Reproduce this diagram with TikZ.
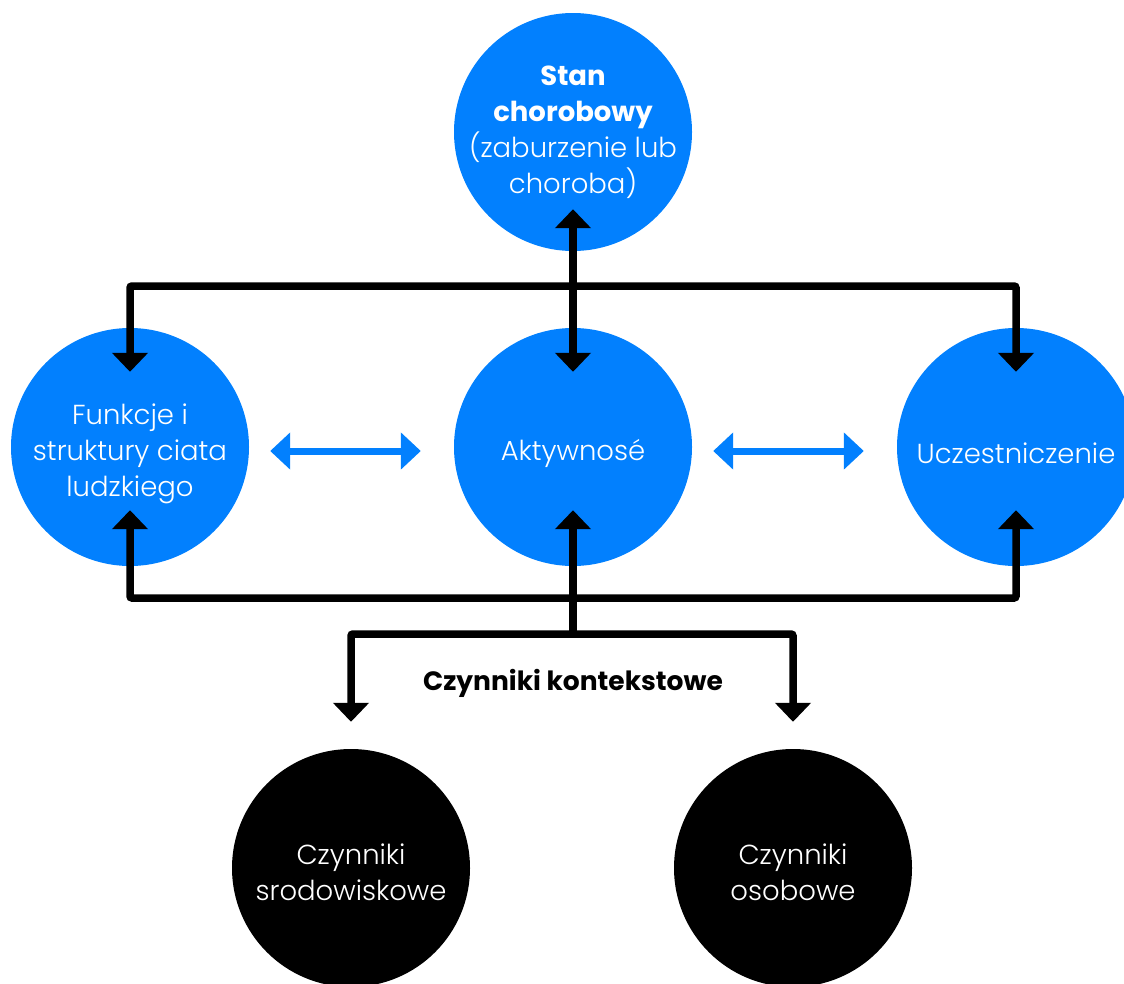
\documentclass[tikz,border=0pt]{standalone}
\usepackage{fontspec}
\setmainfont{Poppins}[UprightFont=* Light, BoldFont=* Bold]
\usetikzlibrary{arrows.meta,calc}
\definecolor{icfblue}{HTML}{0280FE}
\newcommand\txtlift[1]{\rule{0pt}{#1}}
\tikzset{
  ball/.style={circle,minimum size=238pt,inner sep=-20pt,align=center,text=white,
    font=\fontsize{27.5}{36}\selectfont},
  blueball/.style={ball,fill=icfblue},
  blackball/.style={ball,fill=black},
  link/.style={line width=7.5pt,rounded corners=2pt,arrows={-Triangle[width=35pt,length=19pt]}},
  twoway/.style={line width=7pt,icfblue,arrows={Triangle[width=36pt,length=20pt]-Triangle[width=36pt,length=20pt]}}
}
\begin{document}
\begin{tikzpicture}[x=1pt,y=-1pt]
    \useasboundingbox (0,0) rectangle (1124,983);
    \clip (0,0) rectangle (1124,983);
    \node[blueball] (stan) at (573,132) {\textbf{Stan}\\\textbf{chorobowy}\\(zaburzenie lub\\choroba)};
    \node[blueball] (funkcje) at (130,447) {\txtlift{34pt}Funkcje i\\struktury ciata\\ludzkiego};
    \node[blueball] (aktyw) at (573,447) {\txtlift{34pt}Aktywnosé};
    \node[blueball] (uczest) at (1016,447) {\txtlift{34pt}Uczestniczenie};
    \node[blackball] (srodow) at (351,868) {\txtlift{30pt}Czynniki\\srodowiskowe};
    \node[blackball] (osob) at (793,868) {\txtlift{30pt}Czynniki\\osobowe};
    \node[font=\fontsize{26.5}{30}\selectfont\bfseries] (kontekst) at (573,683) {Czynniki kontekstowe};
    % upper and lower bus
    \coordinate (topbus) at (0,286);
    \coordinate (lowbus) at (0,598);
    \coordinate (branch) at (573,634);
    \draw[link,arrows={Triangle[width=35pt,length=19pt]-Triangle[width=35pt,length=19pt]}]
      ($(stan.south)+(0,-42)$) -- ($(aktyw.north)+(0,44)$);
    \draw[link,arrows={Triangle[width=35pt,length=19pt]-Triangle[width=35pt,length=19pt]}]
      ($(funkcje.north)+(0,44)$) -- (funkcje.north |- topbus) -- (uczest.north |- topbus) -- ($(uczest.north)+(0,44)$);
    \draw[link,arrows={Triangle[width=35pt,length=19pt]-Triangle[width=35pt,length=19pt]}]
      ($(funkcje.south)+(0,-56)$) -- (funkcje.south |- lowbus) -- (uczest.south |- lowbus) -- ($(uczest.south)+(0,-56)$);
    \draw[link] (branch) -- ($(aktyw.south)+(0,-56)$);
    \draw[link,arrows={Triangle[width=35pt,length=19pt]-Triangle[width=35pt,length=19pt]}]
      ($(srodow.north)+(0,-27)$) |- (branch) -| ($(osob.north)+(0,-27)$);
    \foreach \a/\b in {funkcje/aktyw,aktyw/uczest}
    \draw[twoway] ($(\a.east)+(21,4)$) -- ($(\b.west)+(-33,4)$);
\end{tikzpicture}
\end{document}
